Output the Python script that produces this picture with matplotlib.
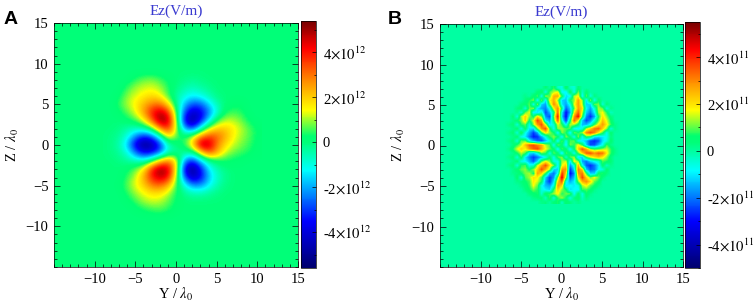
import matplotlib
matplotlib.use("Agg")
import matplotlib.pyplot as plt
import numpy as np
from matplotlib.colors import LinearSegmentedColormap, Normalize
from matplotlib.ticker import MultipleLocator

WIDTH, HEIGHT = 754, 304

plt.rcParams["font.family"] = ["Liberation Serif", "DejaVu Serif"]
plt.rcParams["mathtext.fontset"] = "stix"

# Panel A, units of 1e12 V/m. Columns Y = -10..10, rows Z = 10..-10
field_a = [
    [0] * 21,
    [0] * 21,
    [0, 0, 0, 0, 0, .4, .7, .8, .5, .2, 0, -.1, -.2, -.1, 0, 0, 0, 0, 0, 0, 0],
    [0, 0, 0, 0, .5, 1, 1.2, 1.3, 1, .4, -.1, -.4, -.6, -.4, -.2, 0, 0, 0, 0, 0, 0],
    [0, 0, 0, .2, .9, 1.3, 1.6, 1.8, 1.5, .5, -.4, -.9, -1.3, -1, -.5, -.1, 0, 0, 0, 0, 0],
    [0, 0, 0, .5, 1.1, 1.6, 2.2, 2.8, 2.9, 1.7, -.2, -1.8, -2.7, -2.6, -1.5, -.5, 0, .2, .2, 0, 0],
    [0, 0, 0, .2, .7, 1.4, 2.6, 4, 4.8, 3.8, .4, -2.8, -4.3, -3.8, -2.4, -1, .3, .5, .4, 0, 0],
    [0, 0, 0, 0, .2, .6, 1.5, 3.4, 5.3, 4.9, .9, -3.7, -5.1, -3.6, -1.5, .4, 1.1, 1.1, .7, .2, 0],
    [0, 0, 0, -.1, -.4, -.6, -.3, .6, 3, 3.9, 1.2, -2.2, -3.2, -.9, 1.1, 2, 2, 1.6, 1.1, .6, .2],
    [0, 0, -.1, -.3, -1, -2.3, -3.3, -2.7, -.7, 1.9, .6, .3, 1.2, 2.8, 3.6, 3.2, 2.4, 1.5, 1, .6, .2],
    [0, 0, -.1, -.5, -1.8, -4, -5.3, -4.8, -3.3, -.7, 0, .4, 2, 5.2, 4.9, 2.9, 1.8, 1.2, .8, .5, .1],
    [0, 0, -.1, -.3, -1, -2.5, -3.7, -3.5, -2.5, -.7, -.3, -.2, -.3, 1.7, 3.4, 2.4, 1.2, .7, .5, .3, .1],
    [0, 0, 0, -.1, -.3, -.6, -.8, .3, 2, 3, 1.6, -2.2, -3.3, -1.6, -.3, .2, .3, .2, .1, 0, 0],
    [0, 0, 0, 0, .2, .7, 1.7, 4, 5.3, 4.6, 1.6, -3.8, -5.2, -3.4, -1.4, -.5, -.1, 0, 0, 0, 0],
    [0, 0, 0, 0, .5, 1.2, 2.4, 4, 4.8, 4.2, 1, -2.8, -4.6, -3.6, -1.8, -.8, -.2, 0, 0, 0, 0],
    [0, 0, 0, .1, .7, 1.4, 2, 2.9, 3.1, 2.3, .5, -1, -2.2, -2.2, -1.3, -.5, -.1, 0, 0, 0, 0],
    [0, 0, 0, 0, .4, 1, 1.4, 1.7, 1.7, 1.1, .3, -.2, -.5, -.5, -.3, -.1, 0, 0, 0, 0, 0],
    [0, 0, 0, 0, .1, .5, 1, 1.2, 1.1, .7, .2, 0, 0, 0, 0, 0, 0, 0, 0, 0, 0],
    [0, 0, 0, 0, 0, .1, .3, .5, .6, .4, .1, 0, 0, 0, 0, 0, 0, 0, 0, 0, 0],
    [0] * 21,
    [0] * 21,
]

# Panel B, units of 1e11 V/m. Columns Y = -7..7 step 0.5, rows Z = 7..-7 step 0.5
field_b = [
    [0, 0, 0, 0, 0, 0, 0, 0, 0, 0, .4, 0, .8, -.4, -.6, .7, -.3, -.5, .4, 0, 0, 0, 0, 0, 0, 0, 0, 0, 0],
    [0, 0, 0, 0, 0, 0, 0, 0, .4, .7, -.6, .9, 1.4, 1.8, -.8, -.9, .7, -.7, 1.1, -.3, .5, 0, 0, 0, 0, 0, 0, 0, 0],
    [0, 0, 0, 0, 0, .2, 0, .5, .9, -.7, 1.3, .9, 2.6, 2.6, .7, -1.1, -.9, 1.4, 1.8, -.8, 1, -.5, .3, 0, 0, 0, 0, 0, 0],
    [0, 0, 0, 0, 0, .3, .7, 1.1, -.9, 1.1, -1, 1.8, 2.6, 1.2, -1.2, -1.4, .6, 1.2, 2.8, 1.2, -1, 1.2, -.7, .5, 0, 0, 0, 0, 0],
    [0, 0, 0, 0, .3, .5, .9, -.7, 1.2, -1.2, -1.6, 1, 3, 1.9, -1, -1.6, -.6, 1.6, 2.8, 1.4, -1.2, -1.1, 1, 1.1, -.5, .4, 0, 0, 0],
    [0, 0, 0, .3, .5, -.5, 1, 1.2, -1, -1.6, -1.9, -.6, 1.8, 3, .2, -2.2, -1.2, 1, 2.8, 2, -.8, -1.6, -.5, 1.4, 1, -.5, .2, 0, 0],
    [0, 0, 0, .2, -.4, 1, 1.6, -.9, -1, -.4, -2.4, -1.4, .4, 3.4, -.9, -2.9, -1.6, 1.8, 3.4, 1.5, -1.2, -2, -.9, 1.3, 1.7, .7, -.3, 0, 0],
    [0, 0, .4, -.5, 1.3, 2.2, 1.2, .5, 2, 1, -1.8, -2.3, 1, 4.2, -1.2, -3, -.7, 2.8, 4.3, .8, -1.8, -2.6, -1.6, .6, 2, 1.2, .3, 0, 0],
    [0, 0, .2, .5, 1.1, 2.2, .5, 1.6, 3.7, 2.6, -1, -1.6, .6, 3.4, -.5, -2.5, .3, 3.4, 1.8, -1.2, -2.4, -1.8, -.5, 1, 2.4, 1.6, .6, 0, 0],
    [0, .2, .4, -.5, .7, 1, -.6, 1.2, 2.8, 3.6, 1.6, -1, -.5, 1.6, .8, -.9, 1.4, 1.3, .5, -1.4, -1.4, -.6, .8, 1.9, 2.8, 1.9, .8, .2, 0],
    [0, 0, .2, .5, -.6, .6, -1, -1.2, 1, 2.9, 3.6, .8, -.8, 1.2, 1.3, .9, .9, -.8, -1, -.5, 1.4, 2.2, 3.2, 3.4, 2.2, 1.2, -.5, .2, 0],
    [0, .2, .4, -.5, .8, -.7, -1.6, -2.5, -1.6, .7, 2, 1.2, .6, -.9, 1.2, .7, -1, 1.1, .7, 1.3, 3, 3.6, 3, 1.8, .8, -.7, .5, 0, 0],
    [0, 0, .2, .5, -.7, -1, -2, -2.8, -2.6, -1.6, -.6, .7, 1.2, .6, -.9, 1.2, .5, -.8, 1.2, -.8, .7, .5, -.9, -1.2, -1, -.7, .3, 0, 0],
    [0, .2, .4, -.5, 1, 1, -.7, -1.5, -2.1, -2.3, -1.4, -.6, .8, -.9, 1, -.6, .9, 1, -.7, -.9, -1.4, -2.4, -2.7, -2.3, -1.1, -.6, .5, 0, 0],
    [0, 0, .3, .8, 1.4, 2.4, 3.4, 3.6, 3, 2.6, 1.4, .9, -.8, 1.1, .5, -.9, 1.1, .7, 1.8, .7, -1.2, -2.4, -2.3, -1.4, -.7, .9, .2, 0, 0],
    [0, .2, .7, 1.6, 2.2, 1.8, 2.8, 3.4, 3.7, 2.6, 1.7, 1, .5, -.9, .9, .5, -.9, .5, 2.2, 3.6, 2.6, 1.2, .7, .9, 1.2, 1.5, .8, .2, 0],
    [0, 0, .2, .6, 1.4, .9, -1, -1.2, -.5, 1.1, .8, -.7, 1, .5, -1.1, .9, .5, -.7, .9, 2.2, 3.4, 3.6, 2.9, 3.4, 3.2, 1.9, .8, .2, 0],
    [0, .2, .4, -.5, .8, -1, -1.9, -2.5, -2, -1.4, -.7, .5, -.7, .9, 1.2, -.5, .9, 1.3, -1.1, -1.2, .8, 1.6, 2.1, 2.4, 1.9, 1.2, .3, 0, 0],
    [0, 0, .2, .5, -.6, -.9, -1.5, -2.2, -1.1, .9, 1.7, 1.1, -.6, -.7, 1.3, 1.5, -1, 1.8, 1.2, -1.6, -2, -1.1, -.7, -.4, .9, .7, .4, 0, 0],
    [0, .2, .4, -.5, .7, .9, -.7, -.4, 1.5, 2.6, 3.6, 2.1, 1.1, -.9, 1.6, 2.2, -1.8, -.5, 2.6, -.7, -2.2, -2.6, -2, -1, .6, -.3, .2, 0, 0],
    [0, 0, .2, .5, 1, 1.2, .5, 1.2, 2.2, 3.6, 2.6, 1.3, -1.2, -1.2, 2.8, 2.9, -2.6, -1.1, 3.2, 2.2, -1.3, -2.3, -2, -.9, -.5, .5, 0, 0, 0],
    [0, 0, .2, .3, .6, 1.1, 1.3, .6, 2.7, 2.1, .7, -1.4, -2, -.7, 3.9, 2.1, -3, -1.9, 2.8, 3.2, .8, -1.2, -1.2, .6, .7, .3, 0, 0, 0],
    [0, 0, 0, .5, -.5, .9, 1.3, 2, 1.8, .9, -1.2, -2.5, -1.7, 1.1, 4.6, 1.2, -2.3, -1.4, 1.9, 3.7, 2.2, 1.1, 1.7, 1, .3, 0, 0, 0, 0],
    [0, 0, 0, .2, .3, .6, .9, 1.9, 1.5, .6, -1.6, -2.5, -1, 2.2, 3.5, -.6, -1.5, -1, 1, 2.5, 2.9, 2.1, 1, .6, 0, 0, 0, 0, 0],
    [0, 0, 0, 0, .2, .4, .8, 1.7, 1, -.7, -1.4, -1.6, -.5, 2.8, 2.1, -1, -.8, -1, -.6, 1.3, 1.8, 1, .6, .2, 0, 0, 0, 0, 0],
    [0, 0, 0, 0, 0, .3, .6, 1.1, .7, -.6, -.9, -1.2, .8, 2.2, 1.2, .6, -1.1, -.8, -.9, .8, .9, .6, .2, 0, 0, 0, 0, 0, 0],
    [0, 0, 0, 0, 0, 0, .3, .5, .7, -.4, .7, .8, 1.3, 1.8, .7, 1.1, 1, -.8, .6, -.6, .6, .2, 0, 0, 0, 0, 0, 0, 0],
    [0, 0, 0, 0, 0, 0, 0, .2, .3, .4, -.3, .8, -.6, .8, 1.3, .6, -.6, .3, .6, -.3, .3, 0, 0, 0, 0, 0, 0, 0, 0],
    [0, 0, 0, 0, 0, 0, 0, 0, 0, .2, .3, 0, .4, .7, -.3, .6, .3, 0, .2, 0, 0, 0, 0, 0, 0, 0, 0, 0, 0],
]

axis_ticks = [-10, -5, 0, 5, 10, 15]
bar_ticks = [-4, -2, 0, 2, 4]
bar_labels_a = ["-4$\\times10^{12}$", "-2$\\times10^{12}$", "0", "2$\\times10^{12}$", "4$\\times10^{12}$"]
bar_labels_b = ["-4$\\times10^{11}$", "-2$\\times10^{11}$", "0", "2$\\times10^{11}$", "4$\\times10^{11}$"]

cmap = LinearSegmentedColormap.from_list("field", [
    (0.0, "#00006e"),
    (0.19, "#0000ff"),
    (0.395, "#00ffff"),
    (0.51, "#00ff78"),
    (0.535, "#00ff70"),
    (0.64, "#ffff00"),
    (0.755, "#ff9000"),
    (0.89, "#ff0000"),
    (1.0, "#780000"),
])


def px_axes(fig, left, top, right, bottom):
    return fig.add_axes([left / WIDTH, 1 - bottom / HEIGHT, (right - left) / WIDTH, (bottom - top) / HEIGHT])


def draw_panel(fig, letter, letter_x, box, bar_box, values, half, vmin, vmax, bar_labels, interp):
    ax = px_axes(fig, *box)
    norm = Normalize(vmin, vmax)
    ax.set_facecolor(cmap(norm(0)))
    im = ax.imshow(np.array(values), cmap=cmap, norm=norm, interpolation=interp,
                   extent=[-half, half, -half, half], aspect="auto")
    ax.set_xlim(-15, 15)
    ax.set_ylim(-15, 15)
    ax.set_xticks(axis_ticks)
    ax.set_yticks(axis_ticks)
    ax.xaxis.set_minor_locator(MultipleLocator(1))
    ax.yaxis.set_minor_locator(MultipleLocator(1))
    ax.tick_params(which="major", direction="in", top=True, right=True, length=4, width=0.5, labelsize=10.5, pad=4)
    ax.tick_params(which="minor", direction="in", top=True, right=True, length=2, width=0.5)
    for spine in ax.spines.values():
        spine.set_linewidth(0.5)
    ax.set_xlabel("Y / $\\lambda_0$", fontsize=10.5, labelpad=0)
    ax.set_ylabel("Z / $\\lambda_0$", fontsize=10.5, labelpad=3)
    ax.set_title("Ez(V/m)", fontsize=11, color="#3a3ad0", pad=6)

    cax = px_axes(fig, *bar_box)
    cbar = fig.colorbar(im, cax=cax)
    cbar.set_ticks(bar_ticks)
    cbar.set_ticklabels(bar_labels)
    cbar.ax.yaxis.set_minor_locator(MultipleLocator(1))
    cbar.ax.tick_params(which="major", direction="in", length=3, width=0.5, labelsize=10.5, pad=5)
    cbar.ax.tick_params(which="minor", direction="in", length=1.5, width=0.5)
    cbar.outline.set_linewidth(0.5)

    fig.text(letter_x / WIDTH, 1 - 20 / HEIGHT, letter, family="Liberation Sans", fontweight="bold",
             fontsize=14, ha="center", va="center")


def main():
    fig = plt.figure(figsize=(WIDTH / 100, HEIGHT / 100), dpi=100)
    draw_panel(fig, "A", 11, (54, 23, 298, 267), (301, 21, 316, 268), field_a, 10.5, -5.6, 5.4,
               bar_labels_a, "bicubic")
    draw_panel(fig, "B", 395, (440, 24, 683, 267), (685, 22, 700, 268), field_b, 7.25, -5.0, 5.5,
               bar_labels_b, "bilinear")
    fig.savefig("out.png", dpi=100)


if __name__ == "__main__":
    main()
